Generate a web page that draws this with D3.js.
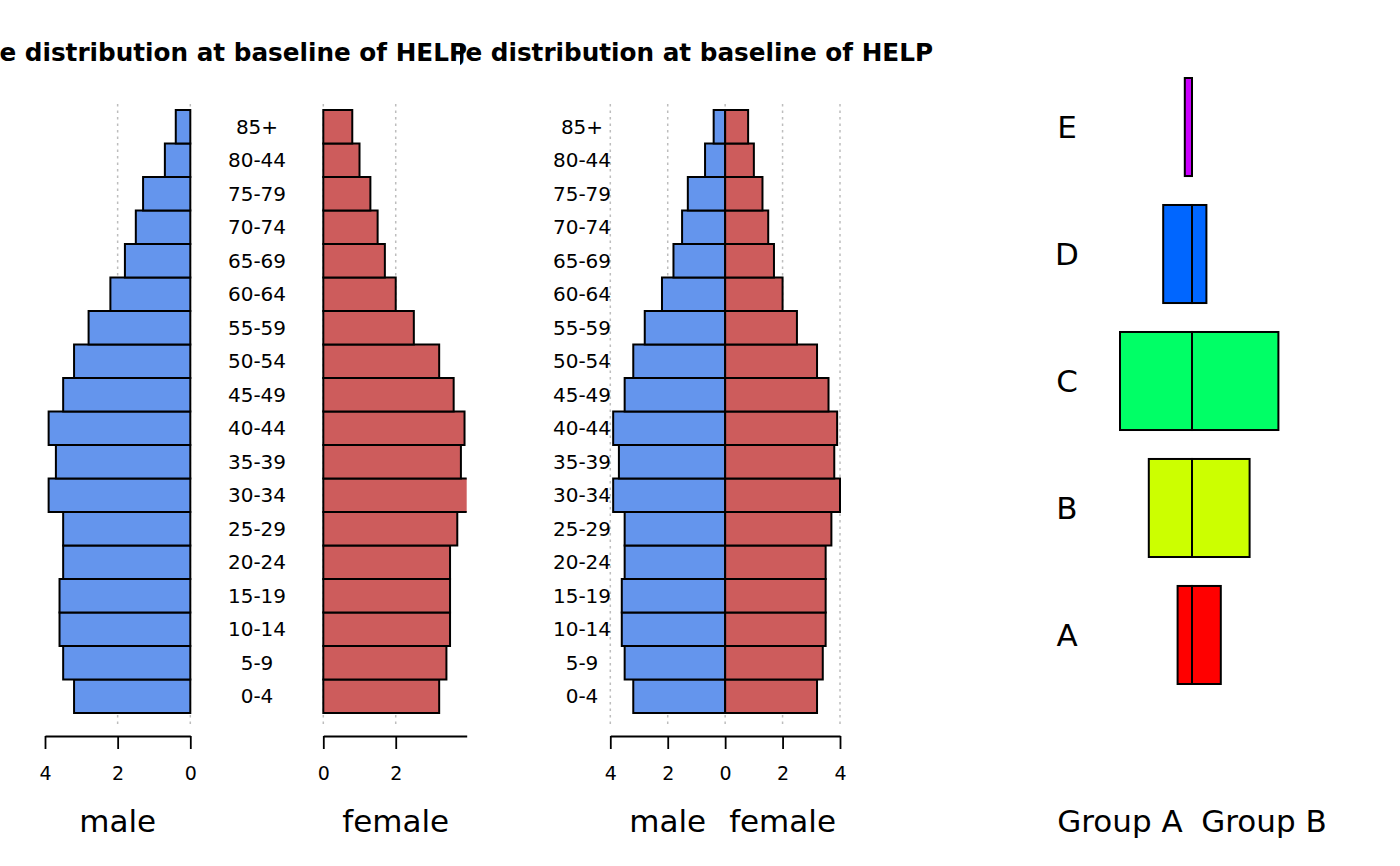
<!DOCTYPE html>
<html>
<head>
<meta charset="utf-8">
<script src="https://cdn.jsdelivr.net/npm/d3@7"></script>
<style>
  body { margin: 0; background: #fff; }
  svg { display: block; font-family: "DejaVu Sans", sans-serif; }
</style>
</head>
<body>
<script>
"use strict"

/* age classes, from youngest to oldest (the label "80-44" is as in the picture) */
const ages = ["0-4", "5-9", "10-14", "15-19", "20-24", "25-29", "30-34", "35-39", "40-44",
    "45-49", "50-54", "55-59", "60-64", "65-69", "70-74", "75-79", "80-44", "85+"];
const maleValues = [3.2, 3.5, 3.6, 3.6, 3.5, 3.5, 3.9, 3.7, 3.9,
    3.5, 3.2, 2.8, 2.2, 1.8, 1.5, 1.3, 0.7, 0.4];
const femaleValues = [3.2, 3.4, 3.5, 3.5, 3.5, 3.7, 4.0, 3.8, 3.9,
    3.6, 3.2, 2.5, 2.0, 1.7, 1.5, 1.3, 1.0, 0.8];
const maleTicks = [4, 2, 0];
const femaleTicks = [0, 2];
const bothTicks = [-4, -2, 0, 2, 4];
const titleText = "Age distribution at baseline of HELP";

/* third panel: groups and the two sides */
const groups = ["A", "B", "C", "D", "E"];
const groupA = [1, 3, 5, 2, 0.5];
const groupB = [2, 4, 6, 1, 0];
const groupColors = ["#FF0000", "#CCFF00", "#00FF66", "#0066FF", "#CC00FF"];
const sideLabels = ["Group A", "Group B"];

const maleColor = "#6495ED";
const femaleColor = "#CD5C5C";

const svg = d3.select("body").append("svg")
    .attr("width", 1400)
    .attr("height", 866);

const defs = svg.append("defs");
function clip(id, x, y, w, h) {
    defs.append("clipPath").attr("id", id)
        .append("rect").attr("x", x).attr("y", y).attr("width", w).attr("height", h);
    return "url(#" + id + ")";
}

/* one row per age class, oldest at the top */
const y = d3.scaleBand()
    .domain(ages.slice().reverse())
    .range([110, 713]);

const rows = ages.map(function (a, i) {
    return { age: a, male: maleValues[i], female: femaleValues[i] };
});

const gridTop = 104, gridBottom = 727, axisY = 736;

function grid(g, scale, values) {
    g.selectAll("line.grid-" + values.join("_"))
        .data(values)
        .enter()
        .append("line")
        .attr("x1", function (d) { return scale(d) })
        .attr("x2", function (d) { return scale(d) })
        .attr("y1", gridTop)
        .attr("y2", gridBottom)
        .attr("stroke", "#bdbdbd")
        .attr("stroke-width", 1.5)
        .attr("stroke-dasharray", "2.5,4");
}

function axis(g, scale, values, fmt) {
    const a = g.append("g")
        .attr("transform", "translate(0," + axisY + ")")
        .attr("font-size", 19)
        .attr("font-family", "DejaVu Sans")
        .call(d3.axisBottom(scale)
            .tickValues(values)
            .tickSize(13)
            .tickSizeOuter(0)
            .tickPadding(18)
            .tickFormat(fmt || d3.format("d")));
    a.attr("font-size", 19).attr("font-family", "DejaVu Sans");
    a.select(".domain").attr("stroke-width", 1.8);
    a.selectAll(".tick line").attr("stroke-width", 1.8);
    a.selectAll("text").style("font-size", "19px");
}

function bars(g, data, scale, key, color) {
    g.selectAll("rect." + key)
        .data(data)
        .enter()
        .append("rect")
        .attr("class", key)
        .attr("x", function (d) { return Math.min(scale(0), scale(d[key])) })
        .attr("width", function (d) { return Math.abs(scale(d[key]) - scale(0)) })
        .attr("y", function (d) { return y(d.age) })
        .attr("height", y.bandwidth())
        .attr("fill", color)
        .attr("stroke", "#000")
        .attr("stroke-width", 2);
}

function ageLabels(g, x) {
    g.selectAll("text.age")
        .data(rows)
        .enter()
        .append("text")
        .attr("class", "age")
        .attr("x", x)
        .attr("y", function (d) { return y(d.age) + y.bandwidth() / 2 })
        .attr("dy", "0.36em")
        .attr("text-anchor", "middle")
        .attr("font-size", 20)
        .text(function (d) { return d.age });
}

function bigLabel(x, text) {
    svg.append("text")
        .attr("x", x)
        .attr("y", 832)
        .attr("text-anchor", "middle")
        .attr("font-size", 31)
        .text(text);
}

function title(xEnd, clipX, clipW, id) {
    svg.append("text")
        .attr("x", xEnd)
        .attr("y", 61)
        .attr("text-anchor", "end")
        .attr("font-size", 24.7)
        .attr("font-weight", "bold")
        .attr("clip-path", clip(id, clipX, 20, clipW, 60))
        .text(titleText);
}

/* ---- panel 1: two separate halves ---- */
const p1 = svg.append("g");
const xMale1 = d3.scaleLinear().domain([0, 4]).range([190.3, 45]);
const xFemale1 = d3.scaleLinear().domain([0, 3.96]).range([323.3, 466.7]);

grid(p1, xMale1, [2, 0]);
grid(p1, xFemale1, [0, 2]);
bars(p1.append("g"), rows, xMale1, "male", maleColor);
bars(p1.append("g").attr("clip-path", clip("c1", 300, 100, 166.7, 640)), rows, xFemale1, "female", femaleColor);
ageLabels(p1, 257);
axis(p1, xMale1, maleTicks);
axis(p1, xFemale1, femaleTicks);
bigLabel(xMale1(2), "male");
bigLabel(xFemale1(2), "female");
title(467, 0, 467, "t1");

/* ---- panel 2: halves joined at zero ---- */
const p2 = svg.append("g");
const x2 = d3.scaleLinear().domain([-4, 4]).range([610.3, 840]);
const xMale2 = function (v) { return x2(-v) };
const xFemale2 = function (v) { return x2(v) };

grid(p2, x2, bothTicks);
bars(p2.append("g"), rows, xMale2, "male", maleColor);
bars(p2.append("g"), rows, xFemale2, "female", femaleColor);
ageLabels(p2, 582);
axis(p2, x2, bothTicks, function (d) { return Math.abs(d) });
bigLabel(x2(-2), "male");
bigLabel(x2(2), "female");
title(933, 460, 500, "t2");

/* ---- panel 3: groups, boxes split at the centre ---- */
const p3 = svg.append("g");
const x3 = d3.scaleLinear().domain([-10, 10]).range([1048, 1336]);
const y3 = d3.scaleBand()
    .domain(groups.slice().reverse())
    .range([78, 684])
    .paddingInner(0.228);

const groupRows = groups.map(function (g, i) {
    return { group: g, a: groupA[i], b: groupB[i], color: groupColors[i] };
});

p3.selectAll("rect.a")
    .data(groupRows.filter(function (d) { return d.a > 0 }))
    .enter()
    .append("rect")
    .attr("class", "a")
    .attr("x", function (d) { return x3(-d.a) })
    .attr("width", function (d) { return x3(0) - x3(-d.a) })
    .attr("y", function (d) { return y3(d.group) })
    .attr("height", y3.bandwidth())
    .attr("fill", function (d) { return d.color })
    .attr("stroke", "#000")
    .attr("stroke-width", 2);

p3.selectAll("rect.b")
    .data(groupRows.filter(function (d) { return d.b > 0 }))
    .enter()
    .append("rect")
    .attr("class", "b")
    .attr("x", x3(0))
    .attr("width", function (d) { return x3(d.b) - x3(0) })
    .attr("y", function (d) { return y3(d.group) })
    .attr("height", y3.bandwidth())
    .attr("fill", function (d) { return d.color })
    .attr("stroke", "#000")
    .attr("stroke-width", 2);

p3.selectAll("text.group")
    .data(groupRows)
    .enter()
    .append("text")
    .attr("class", "group")
    .attr("x", 1067)
    .attr("y", function (d) { return y3(d.group) + y3.bandwidth() / 2 })
    .attr("dy", "0.36em")
    .attr("text-anchor", "middle")
    .attr("font-size", 31)
    .text(function (d) { return d.group });

bigLabel(x3(-5), sideLabels[0]);
bigLabel(x3(5), sideLabels[1]);
</script>
</body>
</html>
